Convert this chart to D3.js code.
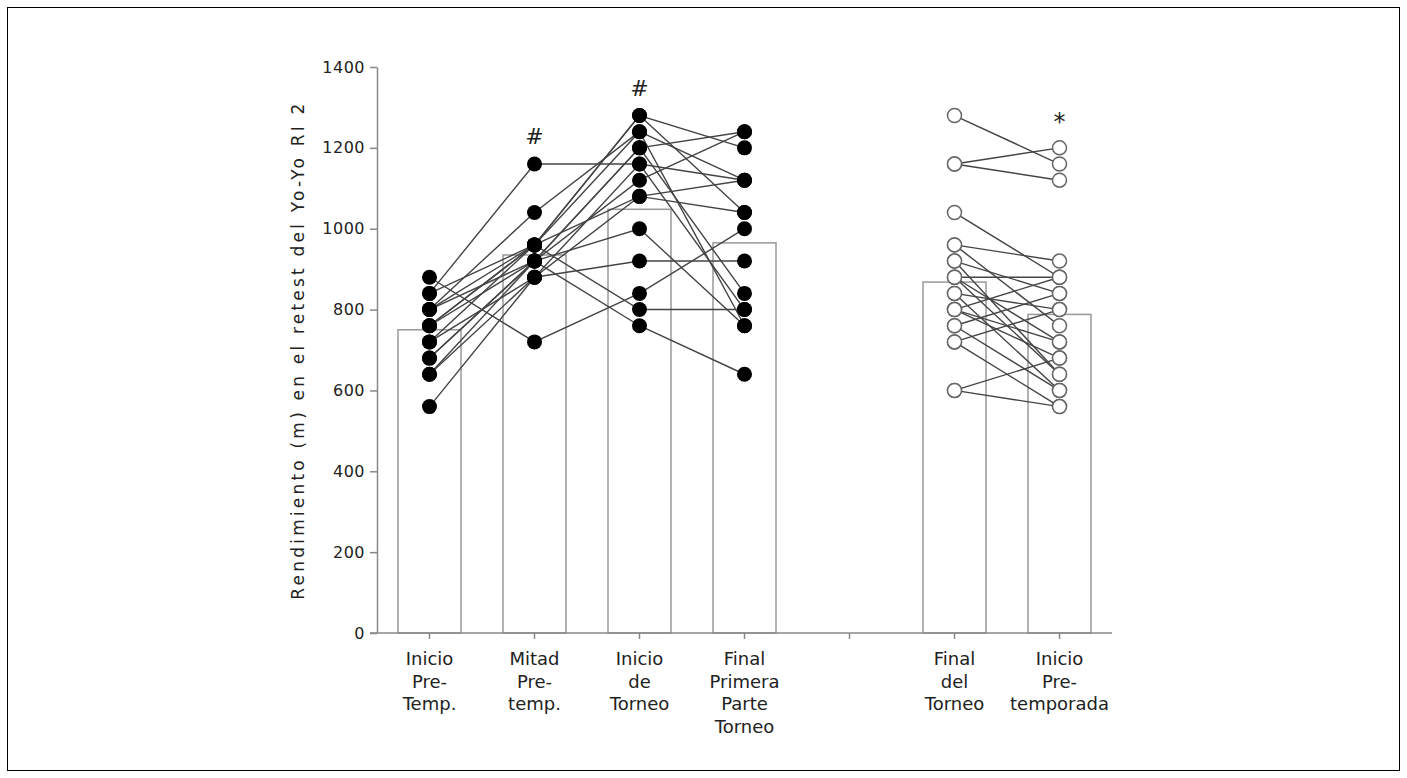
<!DOCTYPE html>
<html lang="es">
<head>
<meta charset="UTF-8" />
<title>Rendimiento Yo-Yo RI 2</title>
<style>
    body, html {
        margin: 0;
        padding: 0;
        overflow: hidden;
        background: #fff;
        font-family: "DejaVu Sans", Verdana, sans-serif;
    }
    svg { display: block; }
    .axis path, .axis line { stroke: #888; stroke-width: 1.5px; }
    .axis text { fill: #222; font-size: 16px; letter-spacing: 0.5px; font-family: "DejaVu Sans", Verdana, sans-serif; }
    .bar { fill: #fff; stroke: #999; stroke-width: 1.5px; }
    .subject { fill: none; stroke: #444; stroke-width: 1.4px; }
    .xlabel { fill: #222; font-size: 18px; }
</style>
</head>
<body>
<svg id="chart" width="1407" height="778"></svg>

<script src="https://d3js.org/d3.v7.min.js"></script>
<script>
    // categorías del eje x ("gap" = hueco entre los dos bloques)
    const categories = ["iniPre", "mitPre", "iniTor", "finPrim", "gap", "finTor", "iniPretemp"];
    const catLabels = [
        ["Inicio", "Pre-", "Temp."],
        ["Mitad", "Pre-", "temp."],
        ["Inicio", "de", "Torneo"],
        ["Final", "Primera", "Parte", "Torneo"],
        [],
        ["Final", "del", "Torneo"],
        ["Inicio", "Pre-", "temporada"]
    ];
    // medias (barras)
    const barCats = ["iniPre", "mitPre", "iniTor", "finPrim", "finTor", "iniPretemp"];
    const barMeans = [750, 935, 1048, 965, 868, 788];
    const marks = ["", "#", "#", "", "", "", "*"];
    const yTicks = [0, 200, 400, 600, 800, 1000, 1200, 1400];

    // bloque 1: jugadores seguidos durante la pretemporada / torneo
    const inicioPreTemp   = [840, 880, 800, 760, 720, 680, 640, 560, 800, 760, 720, 840, 680, 640, 760, 800];
    const mitadPreTemp    = [1160, 720, 1040, 960, 960, 920, 920, 880, 960, 920, 880, 960, 920, 880, 960, 920];
    const inicioTorneo    = [1160, 840, 1240, 1280, 1280, 1200, 1120, 1080, 1240, 1200, 1160, 1080, 1000, 920, 800, 760];
    const finalPrimeraPte = [1120, 1000, 1120, 1200, 1040, 840, 1240, 1040, 760, 1240, 800, 1120, 760, 920, 800, 640];

    // bloque 2
    const finalTorneo        = [1280, 1160, 1160, 1040, 960, 960, 920, 920, 880, 880, 840, 840, 800, 800, 760, 760, 720, 720, 600, 600, 880, 800];
    const inicioPretemporada = [1160, 1200, 1120, 880, 920, 760, 840, 640, 880, 720, 800, 600, 880, 680, 840, 600, 800, 560, 680, 560, 640, 720];

    const svg = d3.select("#chart");

    // marco exterior
    svg.append("rect")
        .attr("x", 7.5).attr("y", 7.5)
        .attr("width", 1392).attr("height", 763)
        .attr("fill", "none").attr("stroke", "#000").attr("stroke-width", 1);

    const x = d3.scaleBand()
        .domain(categories)
        .range([377, 1112])
        .paddingInner(0.4)
        .paddingOuter(0.2);

    const y = d3.scaleLinear()
        .domain([0, 1400])
        .range([633, 67]);

    const cx = c => x(c) + x.bandwidth() / 2;

    // barras (medias)
    svg.append("g").selectAll("rect")
        .data(barCats.map((c, i) => ({ c, v: barMeans[i] })))
        .join("rect")
        .attr("class", "bar")
        .attr("x", d => x(d.c))
        .attr("y", d => y(d.v))
        .attr("width", x.bandwidth())
        .attr("height", d => y(0) - y(d.v));

    // ejes
    svg.append("g")
        .attr("class", "axis")
        .attr("transform", `translate(${x.range()[0]},0)`)
        .call(d3.axisLeft(y).tickValues(yTicks).tickFormat(d3.format("d"))
            .tickSize(7).tickSizeOuter(0).tickPadding(5));

    const xAxis = svg.append("g")
        .attr("class", "axis")
        .attr("transform", `translate(0,${y(0)})`)
        .call(d3.axisBottom(x).tickSize(6).tickSizeOuter(0).tickFormat(""));
    xAxis.select(".domain").attr("d", `M${x.range()[0] - 7},0H${x.range()[1]}`);

    // etiquetas del eje x (varias líneas)
    const lbl = svg.append("g").selectAll("text")
        .data(categories.map((c, i) => ({ c, lines: catLabels[i] })))
        .join("text")
        .attr("class", "xlabel")
        .attr("text-anchor", "middle")
        .attr("transform", d => `translate(${cx(d.c)},${y(0) + 32})`);
    lbl.selectAll("tspan")
        .data(d => d.lines)
        .join("tspan")
        .attr("x", 0)
        .attr("dy", (d, i) => i === 0 ? 0 : 22.5)
        .text(d => d);

    // título del eje y
    svg.append("text")
        .attr("transform", `translate(304,${(y(0) + y(1400)) / 2}) rotate(-90)`)
        .attr("text-anchor", "middle")
        .attr("fill", "#222")
        .style("font-size", "17px")
        .style("letter-spacing", "3.2px")
        .text("Rendimiento (m) en el retest del Yo-Yo RI 2");

    const line = d3.line().x(d => d[0]).y(d => d[1]);

    // bloque 1: líneas por sujeto
    const block1 = [inicioPreTemp, mitadPreTemp, inicioTorneo, finalPrimeraPte];
    const block1Cats = ["iniPre", "mitPre", "iniTor", "finPrim"];
    const subj1 = inicioPreTemp.map((_, i) => block1.map((arr, k) => [cx(block1Cats[k]), y(arr[i])]));

    svg.append("g").selectAll("path")
        .data(subj1)
        .join("path")
        .attr("class", "subject")
        .attr("d", line);

    // bloque 2
    const subj2 = finalTorneo.map((v, i) => [[cx("finTor"), y(v)], [cx("iniPretemp"), y(inicioPretemporada[i])]]);
    svg.append("g").selectAll("path")
        .data(subj2)
        .join("path")
        .attr("class", "subject")
        .attr("d", line);

    // puntos rellenos
    const pts1 = block1.flatMap((arr, k) => arr.map(v => ({ c: block1Cats[k], v })));
    svg.append("g").selectAll("circle")
        .data(pts1)
        .join("circle")
        .attr("cx", d => cx(d.c))
        .attr("cy", d => y(d.v))
        .attr("r", 7.5)
        .attr("fill", "#000");

    // puntos abiertos
    const pts2 = finalTorneo.map(v => ({ c: "finTor", v }))
        .concat(inicioPretemporada.map(v => ({ c: "iniPretemp", v })));
    svg.append("g").selectAll("circle")
        .data(pts2)
        .join("circle")
        .attr("cx", d => cx(d.c))
        .attr("cy", d => y(d.v))
        .attr("r", 7)
        .attr("fill", "#fff")
        .attr("stroke", "#666")
        .attr("stroke-width", 1.5);

    // marcas de significación
    const colMax = {
        iniPre: d3.max(inicioPreTemp), mitPre: d3.max(mitadPreTemp), iniTor: d3.max(inicioTorneo),
        finPrim: d3.max(finalPrimeraPte), finTor: d3.max(finalTorneo), iniPretemp: d3.max(inicioPretemporada)
    };
    svg.append("g").selectAll("text")
        .data(categories.map((c, i) => ({ c, m: marks[i] })).filter(d => d.m))
        .join("text")
        .attr("x", d => cx(d.c))
        .attr("y", d => y(colMax[d.c]) - (d.m === "*" ? 18 : 20))
        .attr("text-anchor", "middle")
        .attr("fill", "#222")
        .style("font-size", d => d.m === "*" ? "24px" : "22px")
        .text(d => d.m);
</script>
</body>
</html>
